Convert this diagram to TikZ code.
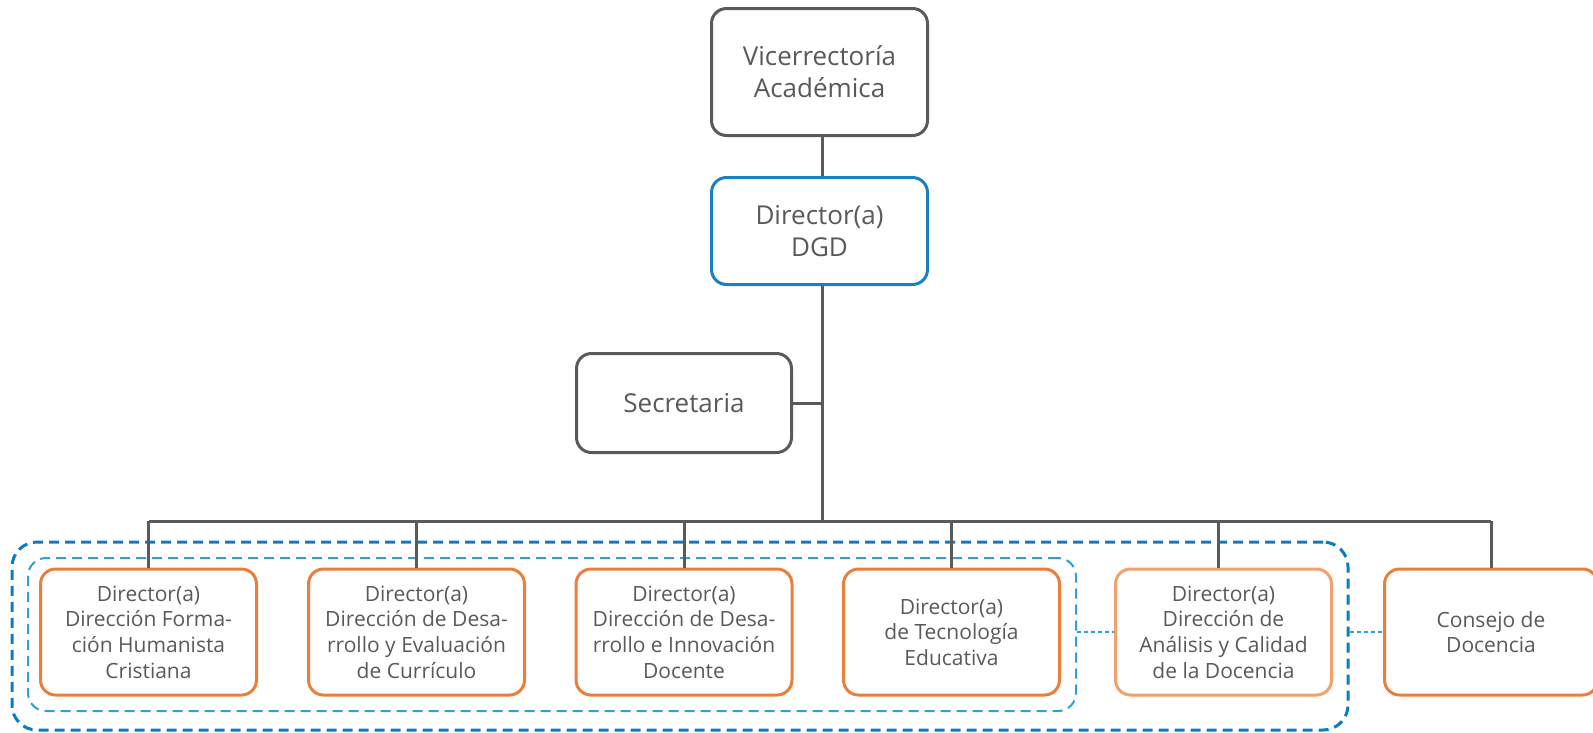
\documentclass[tikz,border=0pt]{standalone}
\usepackage{fontspec}
\setmainfont{Open Sans}
\definecolor{txtgray}{HTML}{595959}
\definecolor{linegray}{HTML}{5A5A5A}
\definecolor{dgdblue}{HTML}{1A80C4}
\definecolor{frameblue}{HTML}{0A7DC2}
\definecolor{innerblue}{HTML}{2E9FD9}
\definecolor{unitorange}{HTML}{ED7D3A}
\definecolor{lightorange}{HTML}{F4A06A}
\begin{document}
\begin{tikzpicture}[x=1pt,y=-1pt,
  box/.style={draw, rounded corners=15pt, line width=3pt, align=center,
    text=txtgray, inner sep=0pt},
  headbox/.style={box, draw=linegray, minimum width=216pt,
    font=\fontsize{26}{32}\selectfont},
  unitbox/.style={box, draw=unitorange, minimum width=216pt, minimum height=126pt,
    font=\fontsize{21}{25.6}\selectfont},
  wire/.style={draw=linegray, line width=3pt},
  outerframe/.style={draw=frameblue, line width=3pt, rounded corners=25pt,
    dash pattern=on 10pt off 6pt, inner sep=0pt},
  innerframe/.style={draw=innerblue, line width=2pt, rounded corners=18pt,
    dash pattern=on 10pt off 6pt, inner sep=0pt},
  link/.style={draw=innerblue, line width=1.5pt, dash pattern=on 4pt off 3pt}
]
\useasboundingbox (0,0) rectangle (1593,732);

% grouping frames behind the unit boxes
\node[outerframe, minimum width=1336pt, minimum height=188pt] (grp) at (680,636) {};
\node[innerframe, minimum width=1048pt, minimum height=153pt] (sub) at (552,634.5) {};

% upper levels
\node[headbox, minimum height=127pt] (vra) at (819.5,72) {Vicerrectoría\\Académica};
\node[headbox, draw=dgdblue, minimum height=107pt] (dgd) at (819.5,231) {Director(a)\\DGD};
\node[headbox, minimum width=215pt, minimum height=99pt] (sec) at (684,403) {Secretaria};

% units
\node[unitbox] (u1) at (148.5,632) {Director(a)\\Dirección Forma-\\ción Humanista\\Cristiana};
\node[unitbox] (u2) at (416.5,632) {Director(a)\\Dirección de Desa-\\rrollo y Evaluación\\de Currículo};
\node[unitbox] (u3) at (684,632) {Director(a)\\Dirección de Desa-\\rrollo e Innovación\\Docente};
\node[unitbox] (u4) at (951.5,632) {Director(a)\\de Tecnología\\Educativa};
\node[unitbox, draw=lightorange] (u5) at (1223.5,632) {Director(a)\\Dirección de\\Análisis y Calidad\\de la Docencia};
\node[unitbox, minimum width=213pt] (u6) at (1491,632) {Consejo de\\Docencia};

% trunk and bus
\coordinate (trunk) at (822.5,521);
\draw[wire] (vra.south -| trunk) -- (dgd.north -| trunk);
\draw[wire] (dgd.south -| trunk) -- (trunk);
\draw[wire] (sec.east) -- (sec.east -| trunk);
\draw[wire] (u1.north |- trunk) -- (u6.north |- trunk);
\foreach \u in {u1,u2,u3,u4,u6}
  \draw[wire] (\u.north |- trunk) -- (\u.north);
\draw[wire] ([xshift=-5.5pt]u5.north |- trunk) -- ([xshift=-5.5pt]u5.north);

% dotted links to the frames
\draw[link] (u5.west -| sub.east) -- (u5.west);
\draw[link] (u6.west -| grp.east) -- (u6.west);
\end{tikzpicture}
\end{document}
